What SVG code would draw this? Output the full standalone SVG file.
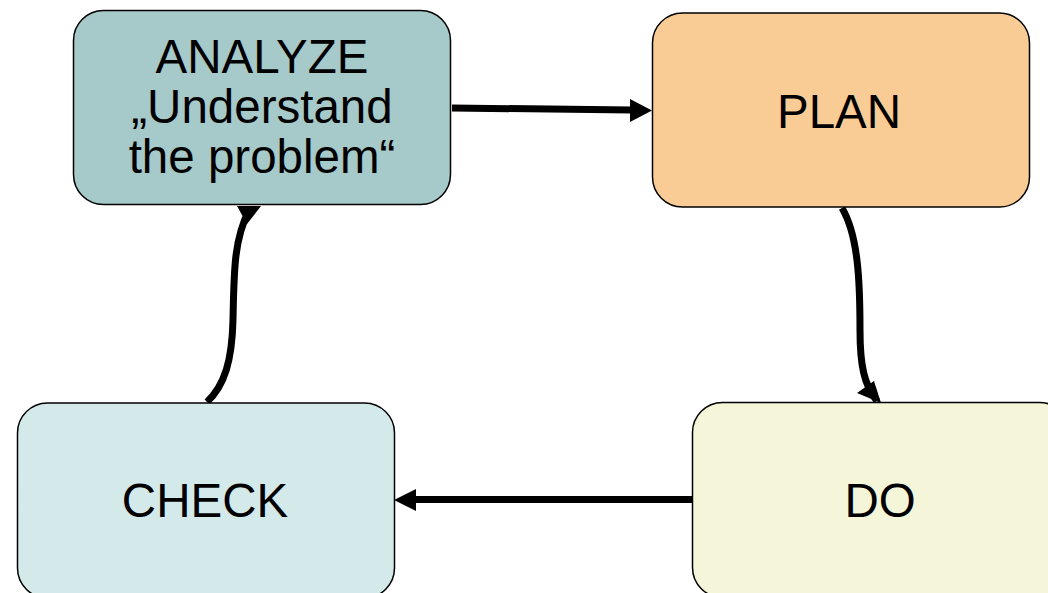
<svg xmlns="http://www.w3.org/2000/svg" width="1048" height="593" viewBox="0 0 1048 593">
<style>
.box{stroke:#000;stroke-width:1.5}
.lbl{font-family:"Liberation Sans",Arial,sans-serif;font-size:47.5px;fill:#000;text-anchor:middle}
.con{fill:none;stroke:#000;stroke-width:7;stroke-linecap:butt}
.head{fill:#000;stroke:none}
</style>
<rect width="1048" height="593" fill="#fff"/>
<g id="connectors">
<path class="con" d="M452,108 L632,110"/>
<polygon class="head" points="630,99 652,110.5 630,122"/>
<path class="con" d="M842,208 C858,235 860,280 860,330 C860,365 864,385 877,401"/>
<polygon class="head" points="857,393 874,381 881,403"/>
<path class="con" d="M692,499.5 L414,499.5"/>
<polygon class="head" points="416,489 394,500 416,511"/>
<path class="con" d="M207,402 C225,385 232,360 233,320 C234,270 234,240 249,210"/>
<polygon class="head" points="237,206 261,206 247,224"/>
</g>
<g id="analyze">
<rect class="box" x="73.5" y="10.5" width="377" height="194" rx="30" fill="#a6c9c9"/>
<text class="lbl" x="262" y="73">ANALYZE</text>
<text class="lbl" x="262" y="123">„Understand</text>
<text class="lbl" x="262" y="173">the problem“</text>
</g>
<g id="plan">
<rect class="box" x="652.5" y="13" width="377" height="194" rx="30" fill="#f9cc95"/>
<text class="lbl" x="839" y="128">PLAN</text>
</g>
<g id="check">
<rect class="box" x="17.5" y="403" width="377" height="195" rx="30" fill="#d4eaea"/>
<text class="lbl" x="205" y="517">CHECK</text>
</g>
<g id="do">
<rect class="box" x="692.5" y="402.5" width="377" height="195" rx="30" fill="#f5f5d9"/>
<text class="lbl" x="880" y="517">DO</text>
</g>
</svg>
